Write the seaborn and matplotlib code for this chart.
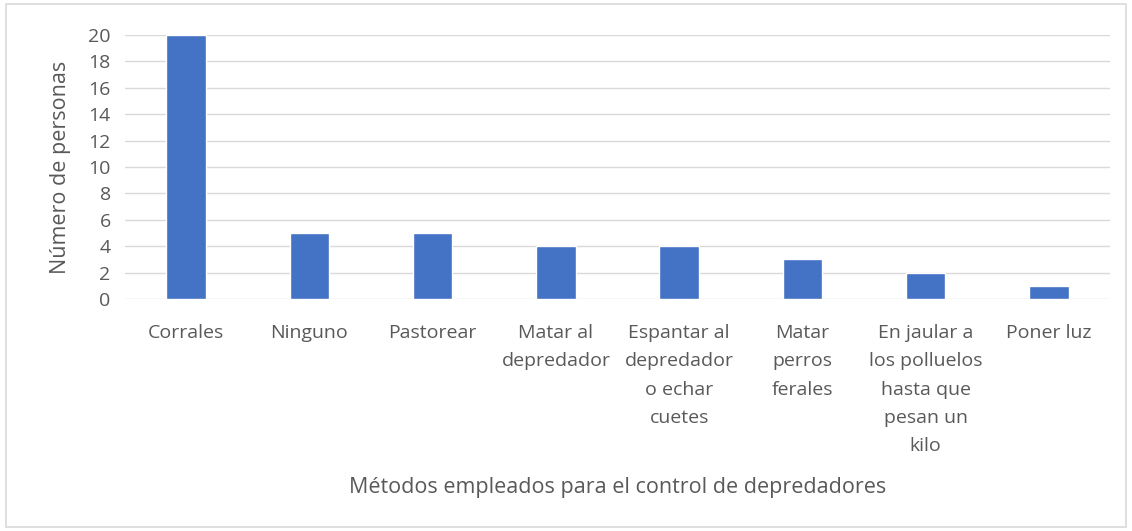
import seaborn as sns
from matplotlib import pyplot as plt
from matplotlib.patches import Rectangle
import pandas as pd

# methods used to control predators and number of people
methods = [
    "Corrales",
    "Ninguno",
    "Pastorear",
    "Matar al\ndepredador",
    "Espantar al\ndepredador\no echar\ncuetes",
    "Matar\nperros\nferales",
    "En jaular a\nlos polluelos\nhasta que\npesan un\nkilo",
    "Poner luz",
]
people = [20, 5, 5, 4, 4, 3, 2, 1]

BAR_COLOR = "#4472C4"
TEXT_COLOR = "#595959"
GRID_COLOR = "#D9D9D9"

sns.set_style("white")
plt.rcParams["font.family"] = ["Open Sans", "DejaVu Sans"]

data = pd.DataFrame({"method": methods, "people": people})

fig = plt.figure(figsize=(11.32, 5.31), dpi=100)
ax = fig.add_axes([0.110, 0.437, 0.871, 0.497])

sns.barplot(data=data, x="method", y="people", color=BAR_COLOR,
            width=0.32, saturation=1, ax=ax, zorder=3)

ax.set_ylim(0, 20)
ax.set_yticks(range(0, 21, 2))
ax.set_xlim(-0.5, len(methods) - 0.5)
ax.yaxis.grid(True, color=GRID_COLOR, linewidth=1, zorder=0)
ax.set_axisbelow(True)
for s in ax.spines.values():
    s.set_visible(False)
ax.tick_params(axis="both", length=0, labelsize=14, colors=TEXT_COLOR)
ax.tick_params(axis="y", pad=10)
ax.tick_params(axis="x", pad=18)
for lbl in ax.get_xticklabels():
    lbl.set_linespacing(1.74)
    lbl.set_verticalalignment("top")

ax.set_xlabel("Métodos empleados para el control de depredadores",
              fontsize=15.5, color=TEXT_COLOR)
ax.xaxis.set_label_coords(0.5, -0.716)
ax.xaxis.label.set_verticalalignment("center")
ax.set_ylabel("Número de personas", fontsize=15.5, color=TEXT_COLOR)
ax.yaxis.set_label_coords(-0.065, 0.5)
ax.yaxis.label.set_verticalalignment("center")

fig.patches.append(Rectangle((0.005, 0.008), 0.99, 0.984, transform=fig.transFigure,
                             fill=False, edgecolor=GRID_COLOR, linewidth=1.2))

fig.savefig("out.png", dpi=100)
